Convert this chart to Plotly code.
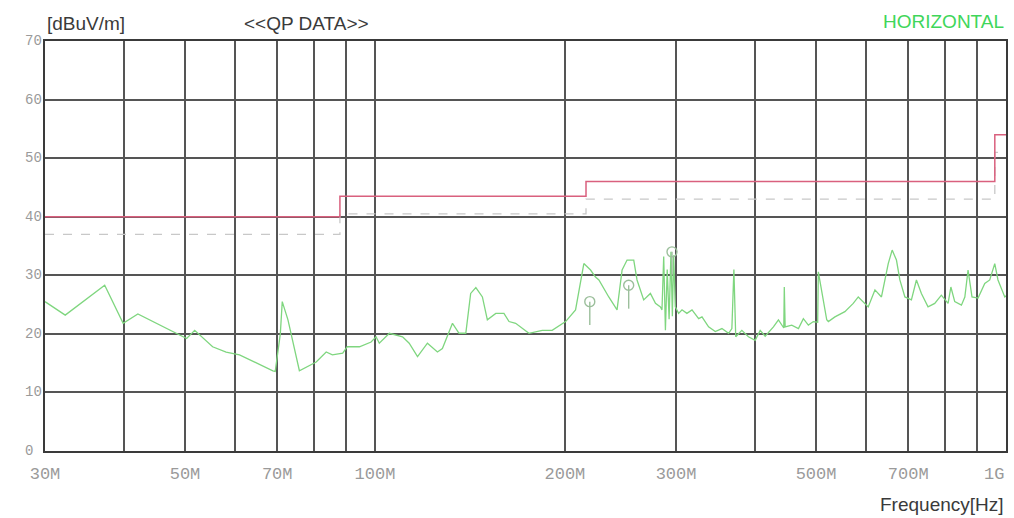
import math
import plotly.graph_objects as go

# Measured horizontal-polarisation sweep (frequency in MHz, level in dBuV/m)
sweep_mhz = [
    30.0, 32.3, 37.3, 39.9, 42.1, 50.3, 51.8, 55.3, 58.1, 61.0, 68.9, 69.5,
    70.8, 71.3, 72.8, 75.9, 80.7, 83.7, 85.6, 88.9, 90.4, 94.5, 98.6, 100.4,
    101.6, 105.4, 110.6, 113.3, 116.8, 121.1, 125.6, 127.9, 132.7, 135.9,
    139.3, 141.8, 144.5, 148.0, 150.7, 155.4, 160.1, 163.1, 167.1, 175.4,
    184.1, 190.9, 200.5, 207.9, 214.3, 219.6, 223.6, 226.4, 234.7, 241.9,
    246.4, 250.9, 257.1, 260.2, 266.6, 273.2, 278.3, 283.4, 285.0, 286.8,
    288.6, 290.5, 292.5, 294.5, 296.0, 297.4, 299.2, 302.8, 306.6, 312.1,
    318.0, 325.8, 329.8, 337.8, 346.2, 354.7, 363.4, 367.8, 370.5, 373.0,
    381.4, 390.7, 400.4, 407.8, 415.3, 428.0, 435.9, 444.5, 445.3, 446.7,
    457.6, 468.9, 477.4, 486.2, 495.1, 503.0, 504.2, 510.4, 519.9, 523.0,
    535.7, 555.5, 572.7, 583.3, 604.9, 619.9, 634.8, 650.7, 660.1, 670.5,
    678.9, 691.5, 708.1, 721.2, 734.4, 752.4, 771.0, 789.9, 809.5, 817.8,
    829.4, 849.9, 860.5, 870.7, 883.3, 903.1, 925.4, 942.4, 959.8, 971.2,
    995.5, 1000.0,
]
sweep_level = [
    25.5, 23.2, 28.3, 21.8, 23.4, 19.2, 20.6, 17.8, 16.9, 16.4, 13.7, 13.6,
    20.0, 25.5, 22.4, 13.7, 15.2, 16.9, 16.4, 16.7, 17.8, 17.8, 18.6, 19.5,
    18.4, 20.1, 19.5, 18.4, 16.1, 18.4, 16.9, 17.5, 21.8, 20.1,
    20.1, 26.9, 27.9, 26.3, 22.4, 23.5, 23.5, 22.1, 21.8, 20.1,
    20.6, 20.6, 22.1, 24.1, 32.0, 30.9, 29.7, 29.2, 26.3, 24.1,
    30.9, 32.6, 32.6, 29.2, 25.8, 26.9, 25.2, 24.6, 24.1, 33.2,
    20.6, 31.0, 22.5, 34.0, 23.0, 33.4, 24.6, 23.5, 24.1, 23.5,
    24.1, 22.6, 22.9, 21.2, 20.4, 20.9, 20.1, 20.9, 31.0, 19.5,
    20.6, 19.5, 18.9, 20.6, 19.6, 21.2, 22.4, 21.0, 28.0, 21.2,
    21.5, 20.9, 22.6, 21.5, 22.1, 22.0, 30.6, 27.5, 22.4, 22.1,
    22.9, 23.8, 25.2, 26.3, 24.6, 27.5, 26.3, 32.0, 34.3, 32.6,
    29.2, 26.3, 25.8, 29.2, 26.9, 24.6, 25.2, 26.6, 25.2, 28.0,
    25.5, 24.9, 26.3, 30.9, 26.3, 26.1, 28.6, 29.2, 32.0, 29.2,
    26.3, 26.5,
]

# Quasi-peak readings
qp_mhz = [219.0, 252.4, 295.6]
qp_level = [25.5, 28.3, 34.0]
qp_stem = [4.0, 4.0, 4.0]

# Limit line and limit-minus-margin line (step edges in MHz)
limit_mhz = [30, 88, 216, 960, 1000]
limit_level = [40.0, 43.5, 46.0, 54.0, 54.0]
margin_level = [37.0, 40.5, 43.0, 51.0, 51.0]

# Axis ticks (the last label sits flush against the right edge)
x_grid_mhz = [30, 40, 50, 60, 70, 80, 90, 100, 200, 300, 400, 500, 600, 700, 800, 900, 1000]
x_tick_text = ["30M", "", "50M", "", "70M", "", "", "100M", "200M", "300M", "",
               "500M", "", "700M", "", "", "1G"]
y_ticks = [0, 10, 20, 30, 40, 50, 60, 70]

MHZ = 1e6
fig = go.Figure()

fig.add_trace(go.Scatter(
    x=[f * MHZ for f in limit_mhz], y=margin_level, mode="lines",
    line=dict(color="#c8c8c8", width=1.3, dash="dash", shape="hv"),
    hoverinfo="skip", showlegend=False,
))
fig.add_trace(go.Scatter(
    x=[f * MHZ for f in limit_mhz], y=limit_level, mode="lines",
    line=dict(color="#d9607e", width=1.5, shape="hv"),
    hoverinfo="skip", showlegend=False,
))
fig.add_trace(go.Scatter(
    x=[f * MHZ for f in sweep_mhz], y=sweep_level, mode="lines",
    line=dict(color="#7fd67f", width=1.3),
    showlegend=False,
))
fig.add_trace(go.Scatter(
    x=[f * MHZ for f in qp_mhz], y=qp_level, mode="markers",
    marker=dict(symbol="circle-open", size=10, color="#9cbf9c", line=dict(width=1.4)),
    error_y=dict(type="data", symmetric=False, array=[0] * len(qp_stem),
                 arrayminus=qp_stem, color="#9cbf9c", thickness=1.4, width=0),
    showlegend=False,
))

grid_color = "#555555"
tick_font = dict(family="Liberation Mono", size=17, color="#9a9a9a")
fig.update_xaxes(
    type="log",
    range=[math.log10(30 * MHZ), math.log10(1000 * MHZ)],
    tickvals=[f * MHZ for f in x_grid_mhz],
    ticktext=x_tick_text[:-1] + [""],
    tickfont=tick_font,
    ticklabelstandoff=6,
    showgrid=True, gridcolor=grid_color, gridwidth=1.5,
    showline=True, linecolor="#3a3a3a", linewidth=2, mirror=True,
    zeroline=False, ticks="",
)
fig.update_yaxes(
    range=[0, 70],
    tickvals=y_ticks,
    showticklabels=False,
    showgrid=True, gridcolor=grid_color, gridwidth=1.5,
    showline=True, linecolor="#3a3a3a", linewidth=2, mirror=True,
    zeroline=False, ticks="",
)

annotations = []
for v in y_ticks:
    annotations.append(dict(
        x=-22 / 963, xref="paper", y=v, yref="y", text=str(v), showarrow=False,
        xanchor="left", yanchor="middle",
        font=dict(family="Liberation Mono", size=14, color="#9a9a9a"),
    ))

# Right-most frequency label, right-aligned to the last grid line
# (annotation x on a log axis is given as log10 of the value)
annotations.append(dict(
    x=math.log10(x_grid_mhz[-1] * MHZ), xref="x", y=0, yref="paper", yshift=-23,
    text=x_tick_text[-1], showarrow=False, xanchor="right", yanchor="middle",
    font=tick_font,
))

title_font = dict(family="Liberation Sans", size=19, color="#3a3a3a")
annotations += [
    dict(x=0, xref="paper", y=1, yref="paper", yshift=18, text="[dBuV/m]",
         showarrow=False, xanchor="left", yanchor="middle", font=title_font),
    dict(x=197 / 963, xref="paper", y=1, yref="paper", yshift=18, text="<<QP DATA>>",
         showarrow=False, xanchor="left", yanchor="middle", font=title_font),
    dict(x=1, xref="paper", y=1, yref="paper", yshift=20, text="HORIZONTAL",
         showarrow=False, xanchor="right", yanchor="middle",
         font=dict(family="Liberation Sans", size=19, color="#3fd65a")),
    dict(x=1, xref="paper", y=0, yref="paper", yshift=-53, text="Frequency[Hz]",
         showarrow=False, xanchor="right", yanchor="middle", font=title_font),
]

fig.update_layout(
    width=1014, height=518,
    margin=dict(l=45, r=6, t=41, b=67),
    paper_bgcolor="white", plot_bgcolor="white",
    annotations=annotations,
    showlegend=False,
)

fig.write_html("out.html")
